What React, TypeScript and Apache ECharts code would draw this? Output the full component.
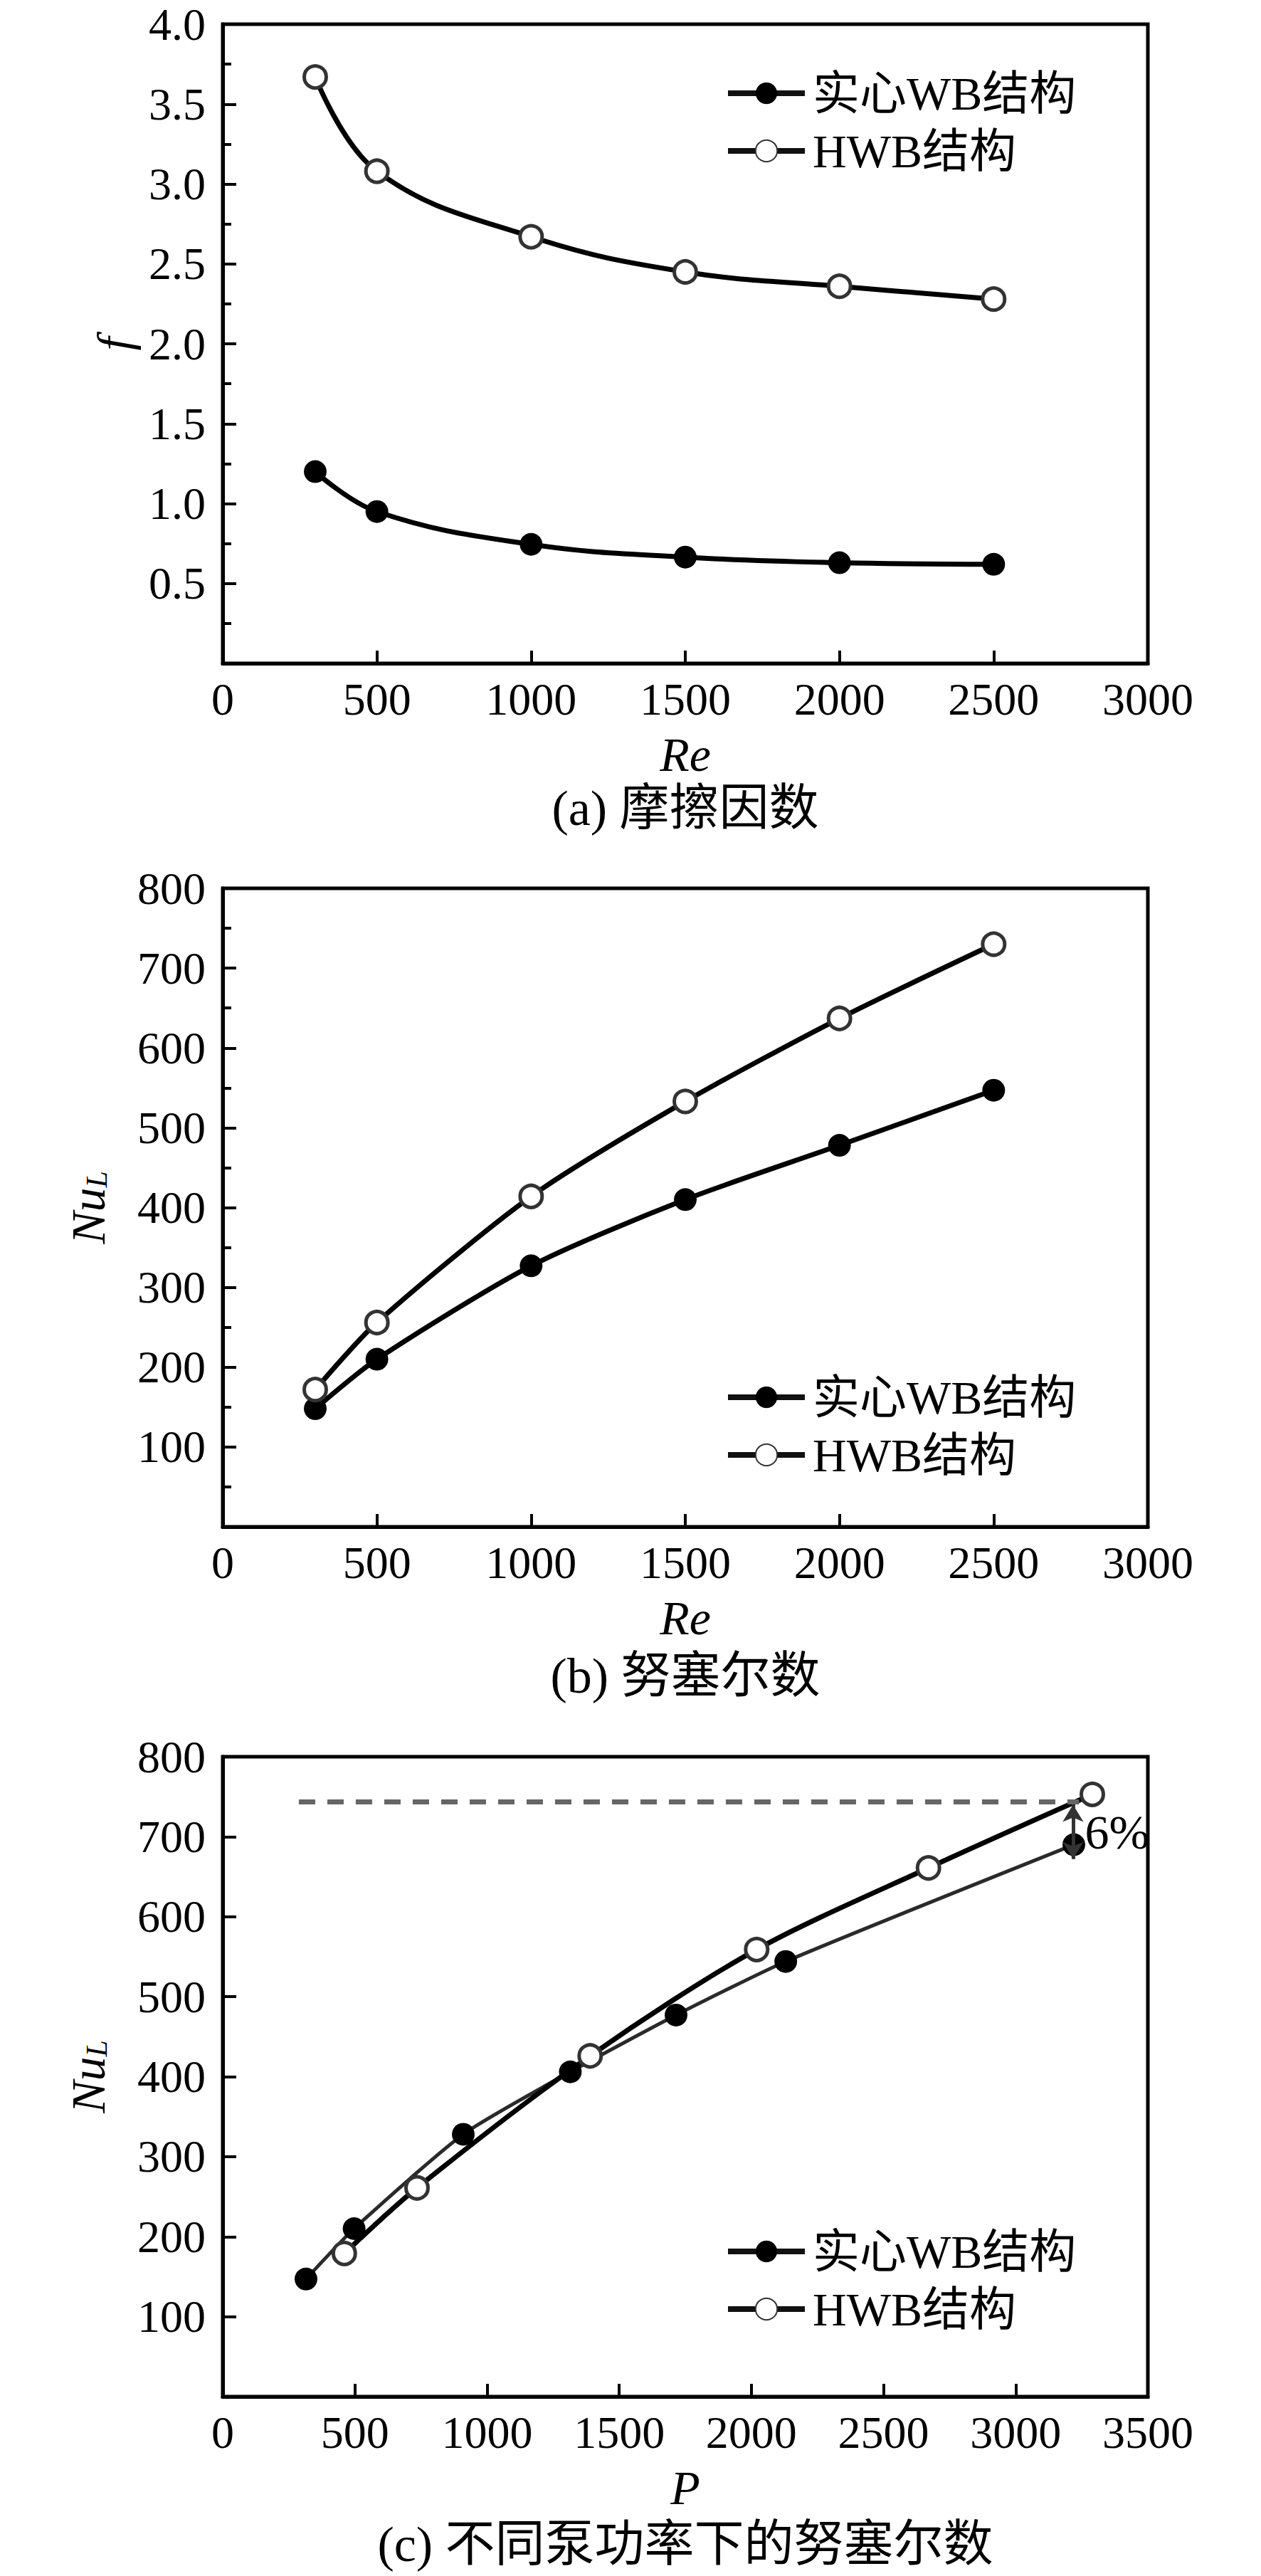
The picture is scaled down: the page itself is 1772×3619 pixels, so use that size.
import React, { useEffect, useRef } from 'react';
import * as echarts from 'echarts';

// ---------- data ----------
const seriesNames = ['实心WB结构', 'HWB结构'];

// (a) friction factor
const reA = [300, 500, 1000, 1500, 2000, 2500];
const solidFA = [1.2, 0.95, 0.745, 0.665, 0.63, 0.62];
const hwbFA = [3.67, 3.08, 2.67, 2.45, 2.36, 2.28];

// (b) Nusselt number vs Re
const reB = [300, 500, 1000, 1500, 2000, 2500];
const solidNuB = [148, 210, 327, 410, 478, 547];
const hwbNuB = [172, 256, 414, 533, 637, 730];

// (c) Nusselt number vs pump power
const solidPC = [315, 497, 910, 1315, 1715, 2130, 3220];
const solidNuC = [147, 210, 328, 406, 477, 544, 690];
const hwbPC = [460, 735, 1390, 2020, 2670, 3290];
const hwbNuC = [179, 261, 426, 559, 661, 753];

// (c) annotation (data space)
const refLineC = [288, 3240, 744]; // xStart, xEnd, y
const arrowC = [3217, 740, 672]; // x, yTop, yBottom
const pctLabelC = [3262, 706];
const pctText = '6%';

const captions = ['(a) 摩擦因数', '(b) 努塞尔数', '(c) 不同泵功率下的努塞尔数'];
const xNames = ['Re', 'Re', 'P'];

const xTicksA = { min: 0, max: 3000, interval: 500 };
const xTicksC = { min: 0, max: 3500, interval: 500 };
const yTicksA = { min: 0, max: 4, interval: 0.5 };
const yTicksNu = { min: 0, max: 800, interval: 100 };

// ---------- layout ----------
const W = 1772;
const H = 3619;
const PLOT_L = 313;
const PLOT_R = 1613;
const TOPS = [34, 1248, 2468];
const HEIGHTS = [898, 897, 899];
const CAPTION_Y = [1135, 2354, 3574];
const LEGEND_TOP = [98, 1930, 3130];
const LEGEND_LEFT = 1019;

const SERIF = "'Liberation Serif', 'Times New Roman', 'Noto Sans CJK SC', serif";

function zip(xs: number[], ys: number[]) {
  return xs.map((x, i) => [x, ys[i]]);
}

function makeXAxis(i: number, ticks: { min: number; max: number; interval: number }) {
  return {
    type: 'value',
    gridIndex: i,
    min: ticks.min,
    max: ticks.max,
    interval: ticks.interval,
    name: xNames[i],
    nameLocation: 'middle',
    nameGap: 94,
    nameTextStyle: { fontFamily: SERIF, fontSize: 68, fontStyle: 'italic', color: '#000' },
    axisLine: { show: true, lineStyle: { color: '#000', width: 5 } },
    axisTick: { show: true, inside: true, length: 18, lineStyle: { color: '#000', width: 4 } },
    axisLabel: {
      fontFamily: SERIF,
      fontSize: 64,
      color: '#000',
      margin: 18,
      formatter: (v: number) => String(v),
    },
    splitLine: { show: false },
  };
}

function makeYAxis(
  i: number,
  ticks: { min: number; max: number; interval: number },
  name: string,
  nameGap: number,
  decimals: number,
  minor: boolean
) {
  return {
    type: 'value',
    gridIndex: i,
    min: ticks.min,
    max: ticks.max,
    interval: ticks.interval,
    name,
    nameLocation: 'middle',
    nameGap,
    nameTextStyle: {
      fontFamily: SERIF,
      fontSize: 68,
      fontStyle: 'italic',
      color: '#000',
      rich: {
        nu: { fontFamily: SERIF, fontSize: 68, fontStyle: 'italic', color: '#000' },
        sub: { fontFamily: SERIF, fontSize: 42, fontStyle: 'italic', color: '#000', padding: [24, 0, 0, 0] },
      },
    },
    axisLine: { show: true, lineStyle: { color: '#000', width: 5 } },
    axisTick: { show: true, inside: true, length: 19, lineStyle: { color: '#000', width: 4 } },
    minorTick: { show: minor, splitNumber: 2, length: 12, lineStyle: { color: '#000', width: 4 } },
    axisLabel: {
      fontFamily: SERIF,
      fontSize: 64,
      color: '#000',
      margin: 24,
      formatter: (v: number) => (v === 0 ? '' : v.toFixed(decimals)),
    },
    splitLine: { show: false },
    minorSplitLine: { show: false },
  };
}

const solidStyle = {
  symbol: 'circle',
  symbolSize: 32,
  itemStyle: { color: '#000', borderColor: '#000', borderWidth: 0 },
};
const hollowStyle = {
  symbol: 'circle',
  symbolSize: 31,
  itemStyle: { color: '#fff', borderColor: '#333', borderWidth: 5 },
};

function makeLegend(i: number) {
  return {
    show: true,
    orient: 'vertical',
    left: LEGEND_LEFT,
    top: LEGEND_TOP[i],
    padding: 0,
    itemWidth: 108,
    itemHeight: 38,
    itemGap: 15,
    selectedMode: false,
    data: seriesNames,
    lineStyle: { width: 8, color: '#111' },
    textStyle: { fontFamily: SERIF, fontSize: 66, color: '#000', lineHeight: 64, padding: [0, 0, 0, 6] },
  };
}

export default function App() {
  const ref = useRef<HTMLDivElement>(null);

  useEffect(() => {
    if (!ref.current) return;
    const chart = echarts.init(ref.current, undefined, { renderer: 'svg', width: W, height: H });

    const grids = TOPS.map((top, i) => ({
      left: PLOT_L,
      right: W - PLOT_R,
      top,
      height: HEIGHTS[i],
      show: true,
      borderColor: '#000',
      borderWidth: 5,
      backgroundColor: 'transparent',
      containLabel: false,
    }));

    const option = {
      animation: false,
      backgroundColor: '#fff',
      grid: grids,
      xAxis: [makeXAxis(0, xTicksA), makeXAxis(1, xTicksA), makeXAxis(2, xTicksC)],
      yAxis: [
        makeYAxis(0, yTicksA, 'f', 118, 1, true),
        makeYAxis(1, yTicksNu, '{nu|Nu}{sub|L}', 155, 0, true),
        makeYAxis(2, yTicksNu, '{nu|Nu}{sub|L}', 155, 0, false),
      ],
      legend: [makeLegend(0), makeLegend(1), makeLegend(2)],
      series: [
        {
          name: seriesNames[0],
          type: 'line',
          xAxisIndex: 0,
          yAxisIndex: 0,
          data: zip(reA, solidFA),
          smooth: 0.4,
          lineStyle: { color: '#000', width: 7 },
          ...solidStyle,
        },
        {
          name: seriesNames[1],
          type: 'line',
          xAxisIndex: 0,
          yAxisIndex: 0,
          data: zip(reA, hwbFA),
          smooth: 0.4,
          lineStyle: { color: '#000', width: 7 },
          ...hollowStyle,
        },
        {
          name: seriesNames[0],
          type: 'line',
          xAxisIndex: 1,
          yAxisIndex: 1,
          data: zip(reB, solidNuB),
          smooth: 0.25,
          lineStyle: { color: '#000', width: 7 },
          ...solidStyle,
        },
        {
          name: seriesNames[1],
          type: 'line',
          xAxisIndex: 1,
          yAxisIndex: 1,
          data: zip(reB, hwbNuB),
          smooth: 0.25,
          lineStyle: { color: '#000', width: 7 },
          ...hollowStyle,
        },
        {
          name: seriesNames[0],
          type: 'line',
          xAxisIndex: 2,
          yAxisIndex: 2,
          data: zip(solidPC, solidNuC),
          smooth: 0.2,
          lineStyle: { color: '#2a2a2a', width: 5 },
          ...solidStyle,
          z: 3,
        },
        {
          name: seriesNames[1],
          type: 'line',
          xAxisIndex: 2,
          yAxisIndex: 2,
          data: zip(hwbPC, hwbNuC),
          smooth: 0.3,
          lineStyle: { color: '#000', width: 7 },
          ...hollowStyle,
          z: 4,
          markLine: {
            silent: true,
            animation: false,
            label: { show: false },
            emphasis: { disabled: true },
            data: [
              [
                {
                  coord: [refLineC[0], refLineC[2]],
                  symbol: 'none',
                  lineStyle: { color: '#666', width: 7, type: [23, 17] },
                },
                { coord: [refLineC[1], refLineC[2]], symbol: 'none' },
              ],
              [
                {
                  coord: [arrowC[0], arrowC[1]],
                  symbol: 'arrow',
                  symbolSize: [22, 24],
                  lineStyle: { color: '#333', width: 5, type: 'solid' },
                },
                { coord: [arrowC[0], arrowC[2]], symbol: 'arrow', symbolSize: [22, 24] },
              ],
            ],
          },
          markPoint: {
            silent: true,
            animation: false,
            symbol: 'circle',
            symbolSize: 0,
            data: [
              {
                coord: pctLabelC,
                label: {
                  show: true,
                  formatter: pctText,
                  position: 'right',
                  distance: 0,
                  fontFamily: SERIF,
                  fontSize: 68,
                  color: '#000',
                },
              },
            ],
          },
        },
      ],
      graphic: captions.map((t, i) => ({
        type: 'text',
        x: (PLOT_L + PLOT_R) / 2,
        y: CAPTION_Y[i],
        silent: true,
        style: {
          text: t,
          fontFamily: SERIF,
          fontSize: 70,
          fill: '#000',
          textAlign: 'center',
          verticalAlign: 'middle',
          textVerticalAlign: 'middle',
        },
      })),
    };

    chart.setOption(option as any);
    return () => {
      chart.dispose();
    };
  }, []);

  return (
    <div
      ref={ref}
      style={{ position: 'absolute', left: 0, top: 0, width: W, height: H, background: '#fff' }}
    />
  );
}
